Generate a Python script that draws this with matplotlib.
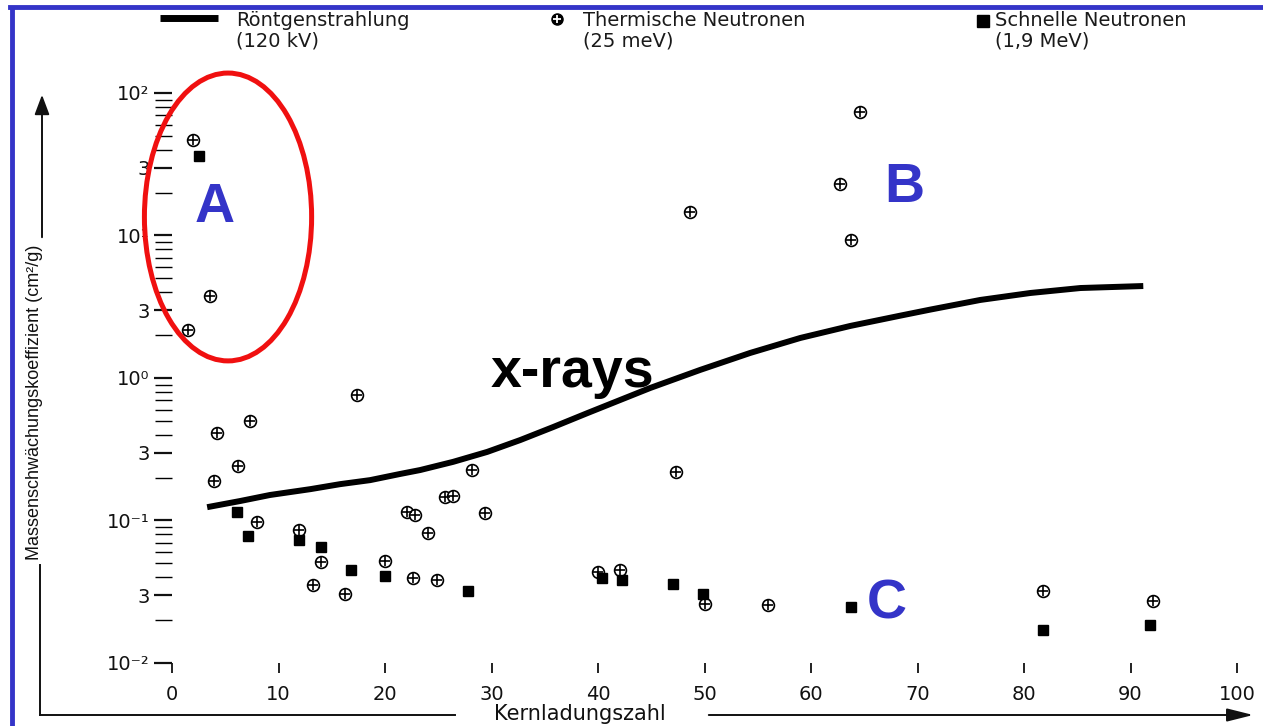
import matplotlib
matplotlib.use("Agg")
import matplotlib.pyplot as plt
from matplotlib.lines import Line2D
from matplotlib.patches import Ellipse
from matplotlib.ticker import FixedLocator, FixedFormatter, NullFormatter

# ---------------- data ----------------
xray_Z = [3.3, 6.4, 9.2, 13.0, 15.8, 18.6, 21.4, 23.3, 26.4, 29.6, 32.7, 35.8,
          39.0, 42.1, 44.9, 49.6, 54.3, 59.0, 63.7, 68.4, 71.2, 75.9, 80.6,
          85.3, 91.2]
xray_mu = [0.124, 0.137, 0.151, 0.166, 0.180, 0.192, 0.212, 0.226, 0.258, 0.303,
           0.367, 0.453, 0.567, 0.702, 0.851, 1.14, 1.50, 1.91, 2.32, 2.74, 3.02,
           3.53, 3.95, 4.28, 4.42]

thermal_Z = [2.0, 3.6, 1.5, 17.4, 4.2, 7.3, 6.2, 3.9, 8.0, 11.9, 14.0, 13.2, 16.2,
             20.0, 22.6, 24.9, 28.2, 25.6, 26.4, 22.1, 22.8, 24.0, 29.4, 47.3,
             48.6, 62.7, 63.8, 64.6, 40.0, 42.1, 50.0, 56.0, 81.8, 92.1]
thermal_mu = [46.8, 3.76, 2.17, 0.76, 0.411, 0.499, 0.241, 0.189, 0.0976, 0.0857,
              0.0512, 0.0352, 0.0305, 0.052, 0.0395, 0.0382, 0.226, 0.146, 0.149,
              0.115, 0.109, 0.0817, 0.113, 0.219, 14.6, 23.0, 9.3, 73.6, 0.0435,
              0.045, 0.026, 0.0255, 0.032, 0.0272]

fast_Z = [2.5, 6.1, 7.1, 11.9, 14.0, 16.8, 20.0, 27.8, 40.4, 42.3, 47.0, 49.9,
          63.8, 81.8, 91.8]
fast_mu = [36.1, 0.115, 0.0778, 0.073, 0.0652, 0.045, 0.0408, 0.032, 0.0395,
           0.038, 0.0358, 0.0305, 0.0247, 0.017, 0.0185]

x_ticks = [0, 10, 20, 30, 40, 50, 60, 70, 80, 90, 100]
y_major = [0.01, 0.03, 0.1, 0.3, 1, 3, 10, 30, 100]
y_major_labels = ['10⁻²', '3', '10⁻¹', '3', '10⁰', '3', '10¹', '3', '10²']
y_minor = [m * d for d in [0.01, 0.1, 1, 10] for m in [2, 4, 5, 6, 7, 8, 9]]

legend_labels = ['Röntgenstrahlung\n(120 kV)', 'Thermische Neutronen\n(25 meV)',
                 'Schnelle Neutronen\n(1,9 MeV)']

# ---------------- figure ----------------
W, H = 1263, 726
fig = plt.figure(figsize=(W / 100, H / 100), dpi=100)
fig.patch.set_facecolor('white')

def fx(px):
    return px / W

def fy(py):
    return 1 - py / H

ax = fig.add_axes([fx(172), fy(663), (1237 - 172) / W, (663 - 93) / H])
ax.set_yscale('log')
ax.set_xlim(0, 100)
ax.set_ylim(0.01, 100)
for s in ax.spines.values():
    s.set_visible(False)

ax.yaxis.set_major_locator(FixedLocator(y_major))
ax.yaxis.set_major_formatter(FixedFormatter(y_major_labels))
ax.yaxis.set_minor_locator(FixedLocator(y_minor))
ax.yaxis.set_minor_formatter(NullFormatter())
ax.set_xticks(x_ticks)
ax.tick_params(axis='y', which='major', direction='out', length=13, width=1.6,
               pad=3, labelsize=14, colors='#111111')
ax.tick_params(axis='y', which='minor', direction='out', length=12, width=1.0)
ax.tick_params(axis='x', which='major', direction='out', length=7, width=1.3,
               pad=9, labelsize=14, colors='#111111')
for lab in ax.get_xticklabels() + ax.get_yticklabels():
    lab.set_family('DejaVu Sans')

# x-ray curve
ax.plot(xray_Z, xray_mu, color='black', lw=4.3, solid_capstyle='butt',
        solid_joinstyle='round', zorder=3)

# thermal neutrons
ax.plot(thermal_Z, thermal_mu, ls='none', marker='o', ms=8.5, mfc='white',
        mec='black', mew=1.2, zorder=4)
ax.plot(thermal_Z, thermal_mu, ls='none', marker='+', ms=6.5, mec='black',
        mew=1.2, zorder=5)
# fast neutrons
ax.plot(fast_Z, fast_mu, ls='none', marker='s', ms=6.5, mfc='black',
        mec='black', zorder=4)

# annotations
blue = '#3434c8'
ax.text(0.0404, 0.798, 'A', transform=ax.transAxes, ha='center', va='center',
        fontsize=40, fontweight='bold', color=blue, family='Liberation Sans')
ax.text(0.688, 0.833, 'B', transform=ax.transAxes, ha='center', va='center',
        fontsize=40, fontweight='bold', color=blue, family='Liberation Sans')
ax.text(0.671, 0.102, 'C', transform=ax.transAxes, ha='center', va='center',
        fontsize=40, fontweight='bold', color=blue, family='Liberation Sans')
ax.text(0.376, 0.508, 'x-rays', transform=ax.transAxes, ha='center', va='center',
        fontsize=40, fontweight='bold', color='black', family='Liberation Sans',
        zorder=6)
ell = Ellipse((0.0526, 0.7825), 0.157, 0.505, transform=ax.transAxes,
              fill=False, edgecolor='#f01010', lw=3.6, clip_on=False, zorder=7)
ax.add_patch(ell)

# axis labels with arrows (figure level)
lc = '#111111'
fig.text(fx(35), fy(402), 'Massenschwächungskoeffizient (cm²/g)', rotation=90,
         ha='center', va='center', fontsize=13, family='Liberation Sans', color=lc)
fig.text(fx(580), fy(714), 'Kernladungszahl', ha='center', va='center',
         fontsize=15, family='DejaVu Sans', color=lc)
fig.add_artist(Line2D([fx(40), fx(40)], [fy(715), fy(565)], transform=fig.transFigure,
                      color=lc, lw=1.4))
fig.add_artist(Line2D([fx(40), fx(455)], [fy(715), fy(715)], transform=fig.transFigure,
                      color=lc, lw=1.4))
ax.annotate('', xy=(fx(42), fy(92)), xytext=(fx(42), fy(240)),
            xycoords='figure fraction', textcoords='figure fraction',
            arrowprops=dict(arrowstyle='-|>,head_length=1.2,head_width=0.45',
                            color=lc, lw=1.4))
ax.annotate('', xy=(fx(1256), fy(715)), xytext=(fx(706), fy(715)),
            xycoords='figure fraction', textcoords='figure fraction',
            arrowprops=dict(arrowstyle='-|>,head_length=1.6,head_width=0.4',
                            color=lc, lw=1.4))

# legend (figure level)
fig.add_artist(Line2D([fx(160), fx(218)], [fy(18), fy(18)], transform=fig.transFigure,
                      color='black', lw=5, solid_capstyle='butt'))
fig.add_artist(Line2D([fx(557)], [fy(19)], transform=fig.transFigure, ls='none',
                      marker='o', ms=8, mfc='black', mec='black'))
fig.add_artist(Line2D([fx(557)], [fy(19)], transform=fig.transFigure, ls='none',
                      marker='+', ms=6, mec='white', mew=1.3))
fig.add_artist(Line2D([fx(983)], [fy(21)], transform=fig.transFigure, ls='none',
                      marker='s', ms=8, mfc='black', mec='black'))
for px, lab in zip([236, 583, 995], legend_labels):
    t = fig.text(fx(px), fy(31), lab, ha='left', va='center', fontsize=14,
                 family='DejaVu Sans', color='#1a1a1a', linespacing=1.12)
    t.set_zorder(10)

# blue frame (behind text)
fig.add_artist(Line2D([fx(12), fx(12)], [0, fy(8)], transform=fig.transFigure,
                      color=blue, lw=3.5, zorder=0))
fig.add_artist(Line2D([fx(10), 1], [fy(7), fy(7)], transform=fig.transFigure,
                      color=blue, lw=3.5, zorder=0))

fig.savefig('out.png', dpi=100)
